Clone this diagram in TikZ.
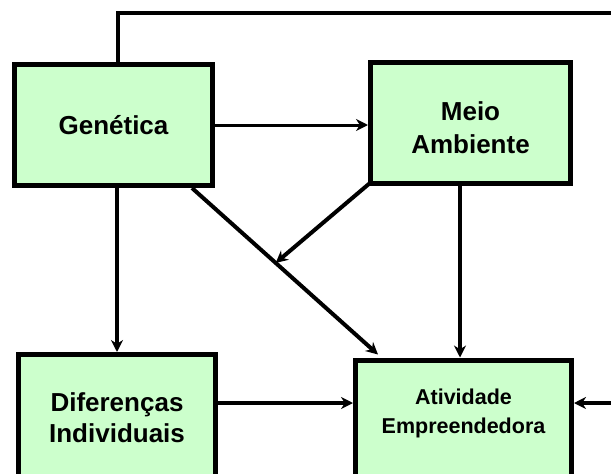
\documentclass[tikz,border=0pt]{standalone}
\usepackage{fontspec}
\setmainfont{Liberation Sans}
\usepackage{xcolor}
\usepackage{tikz}
\usetikzlibrary{
  arrows.meta,
  calc,
  positioning
}
\definecolor{boxgreen}{RGB}{204,255,204}

\begin{document}
\begin{tikzpicture}[
  x=1pt, y=-1pt,
  factor/.style={draw, line width=5pt, fill=boxgreen, align=center,
                 font=\fontsize{26}{31}\selectfont\bfseries},
  arr/.style={-{Stealth[length=12pt, width=12pt]}, line width=4pt},
  wire/.style={line width=4pt}
]
\clip (0,0) rectangle (611,474);

% ── Row 1: Genetics and environment ──
\node[factor, minimum width=198pt, minimum height=121pt] at (113.5,125) (gen) {Genética};
\node[factor, minimum width=200pt, minimum height=121pt, text height=62pt,
      font=\fontsize{26}{33}\selectfont\bfseries] at (470.5,123) (meio) {Meio\\Ambiente};

% ── Row 2: Differences and activity ──
\node[factor, minimum width=197pt, minimum height=127pt] at (117,418) (dif)
  {Diferenças\\Individuais};
\node[factor, minimum width=216pt, minimum height=150pt, anchor=north] at (463.5,357.5) (atv) {};
\node[font=\fontsize{21.5}{29}\selectfont\bfseries, align=center] at (463.5,413) (atvlbl)
  {Atividade\\Empreendedora};

% ── Free ends (outside the frame) ──
\coordinate (fbtop) at (640,13);
\coordinate (fbrow) at (640,403);

% ── Connectors ──
\draw[wire] ($(gen.north)+(4.5,0)$) |- (fbtop);
\draw[arr, line width=3pt] (gen.east) -- (gen.east -| meio.west);
\draw[arr] (gen.south -| dif.north) -- (dif.north);
\draw[arr] ($(meio.south)+(-10.5,0)$) -- ($(atv.north)+(-3.5,0)$);

\coordinate (gstart) at ($(gen.south east)+(-23,0)$);
\coordinate (gend) at ($(atv.north west)+(25,-3)$);
\coordinate (mod) at ($(gstart)!0.45!(gend)$);
\draw[arr] (gstart) -- (gend);
\draw[arr] ($(meio.south west)+(2,-3)$) -- (mod);

\draw[arr] (dif.east |- fbrow) -- (atv.west |- fbrow);
\draw[arr] (fbrow) -- (atv.east |- fbrow);

\end{tikzpicture}
\end{document}
